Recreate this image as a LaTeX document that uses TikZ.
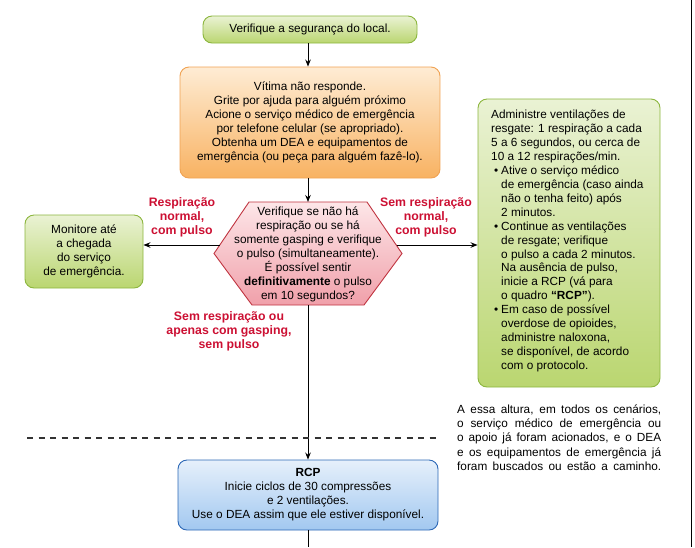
\documentclass[tikz,border=0pt]{standalone}
\usepackage{fontspec}
\setmainfont{Liberation Sans}
\usetikzlibrary{arrows.meta}
\definecolor{gtop}{RGB}{234,242,212}
\definecolor{gbot}{RGB}{186,214,112}
\definecolor{gdraw}{RGB}{140,182,62}
\definecolor{otop}{RGB}{254,236,212}
\definecolor{obot}{RGB}{248,178,98}
\definecolor{odraw}{RGB}{240,162,82}
\definecolor{ptop}{RGB}{253,230,232}
\definecolor{pbot}{RGB}{240,160,170}
\definecolor{pdraw}{RGB}{192,52,64}
\definecolor{btop}{RGB}{230,240,251}
\definecolor{bbot}{RGB}{162,200,240}
\definecolor{bdraw}{RGB}{44,104,182}
\definecolor{lblred}{RGB}{204,16,51}
\newcommand{\blt}{\makebox[10pt][c]{\textbullet}}
\newcommand{\ind}{\hspace*{10pt}}
\newcommand{\jl}[1]{\makebox[204pt][s]{#1}}
\begin{document}
\begin{tikzpicture}[x=1pt,y=-1pt,
  txt/.style={font=\fontsize{11.8}{14}\selectfont, align=center, inner sep=0pt},
  box/.style={draw, line width=0.9pt, rounded corners=9pt, inner sep=0pt},
  greenbox/.style={box, draw=gdraw, top color=gtop, bottom color=gbot},
  orangebox/.style={box, draw=odraw, top color=otop, bottom color=obot},
  bluebox/.style={box, draw=bdraw, top color=btop, bottom color=bbot},
  lbl/.style={font=\fontsize{12.3}{14}\selectfont\bfseries, text=lblred, align=center, inner sep=0pt},
  arr/.style={-{Stealth[length=7pt,width=5.5pt]}, line width=1pt},
  conn/.style={line width=1pt}
]
\useasboundingbox (0,0) rectangle (695,547);

% boxes
\node[greenbox, minimum width=214pt, minimum height=27pt, txt] (safe) at (310,29.5) {Verifique a segurança do local.};
\node[orangebox, minimum width=260pt, minimum height=111pt, txt] (resp) at (310,122.5)
 {Vítima não responde.\\Grite por ajuda para alguém próximo\\Acione o serviço médico de emergência\\por telefone celular (se apropriado).\\Obtenha um DEA e equipamentos de\\emergência (ou peça para alguém fazê-lo).};

% hexagon
\path[draw=pdraw, line width=0.9pt, top color=ptop, bottom color=pbot]
  (249,202) -- (367,202) -- (402,253.5) -- (364,305) -- (252,305) -- (214,253.5) -- cycle;
\node[txt] (check) at (308,254) {Verifique se não há\\respiração ou se há\\somente gasping e verifique\\o pulso (simultaneamente).\\É possível sentir\\\textbf{definitivamente} o pulso\\em 10 segundos?};
\coordinate (hexT) at (308,202);
\coordinate (hexB) at (308,305);
\coordinate (hexL) at (219.5,245);
\coordinate (hexR) at (396.5,245);

\node[greenbox, minimum width=118pt, minimum height=73pt, txt] (monitor) at (84,251.5)
 {Monitore até\\a chegada\\do serviço\\de emergência.};

\node[greenbox, minimum width=182pt, minimum height=288pt] (vent) at (569,243) {};
\node[txt, align=left, anchor=west, font=\fontsize{11.8}{13.95}\selectfont] (venttxt) at (491,241)
 {Administre ventilações de\\resgate: 1 respiração a cada\\5 a 6 segundos, ou cerca de\\10 a 12 respirações/min.\\
 \blt Ative o serviço médico\\\ind de emergência (caso ainda\\\ind não o tenha feito) após\\\ind 2 minutos.\\
 \blt Continue as ventilações\\\ind de resgate; verifique\\\ind o pulso a cada 2 minutos.\\\ind Na ausência de pulso,\\\ind inicie a RCP (vá para\\\ind o quadro \textbf{“RCP”}).\\
 \blt Em caso de possível\\\ind overdose de opioides,\\\ind administre naloxona,\\\ind se disponível, de acordo\\\ind com o protocolo.};

\node[txt, align=left, anchor=west, font=\fontsize{11.8}{14.3}\selectfont] (note) at (457,437.5)
 {\jl{A essa altura, em todos os cenários,}\\\jl{o serviço médico de emergência ou}\\\jl{o apoio já foram acionados, e o DEA}\\\jl{e os equipamentos de emergência já}\\\jl{foram buscados ou estão a caminho.}};

\node[bluebox, minimum width=260pt, minimum height=70pt, txt] (rcp) at (308,495)
 {\textbf{RCP}\\Inicie ciclos de 30 compressões\\e 2 ventilações.\\Use o DEA assim que ele estiver disponível.};

% labels
\node[lbl] (lblL) at (182,217) {Respiração\\normal,\\com pulso};
\node[lbl] (lblR) at (426,217) {Sem respiração\\normal,\\com pulso};
\node[lbl] (lblB) at (229,331) {Sem respiração ou\\apenas com gasping,\\sem pulso};

% connectors
\draw[arr] (safe.south -| hexT) -- (resp.north -| hexT);
\draw[arr] (resp.south -| hexT) -- (hexT);
\draw[arr] (hexL) -- (monitor.east |- hexL);
\draw[arr] (hexR) -- (vent.west |- hexR);
\draw[arr] (hexB) -- (rcp.north -| hexB);
\coordinate (bot) at (308,547);
\draw[conn] (rcp.south -| bot) -- (bot);

% dashed separator
\coordinate (dashL) at (27,438);
\coordinate (dashR) at (440,438);
\draw[line width=1.1pt, draw=black!80, dash pattern=on 6pt off 5.5pt] (dashL) -- (dashR);

% right edge bar
\coordinate (barT) at (691.5,0);
\coordinate (barB) at (691.5,547);
\draw[line width=1.2pt] (barT) -- (barB);
\end{tikzpicture}
\end{document}
